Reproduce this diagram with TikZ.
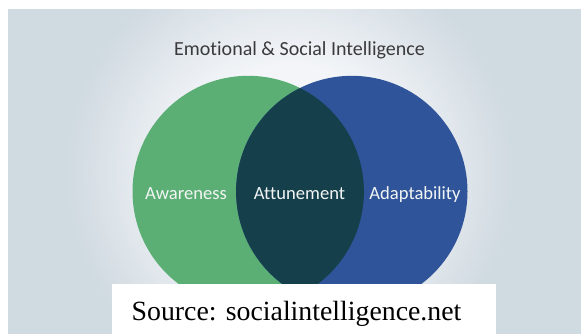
\documentclass[tikz,border=0pt]{standalone}
\usepackage{fontspec}
\setmainfont[Ligatures=NoCommon]{Carlito}
\newfontfamily\srcfont{Liberation Serif}
\definecolor{bgouter}{HTML}{D0DAE1}
\definecolor{bginner}{HTML}{F3F5F8}
\definecolor{greenc}{HTML}{5BAE74}
\definecolor{bluec}{HTML}{2F5499}
\definecolor{lensc}{HTML}{163F4C}
\definecolor{titlec}{HTML}{3A3A3C}
\definecolor{labelc}{HTML}{F1F5F4}
\tikzset{
  vlabel/.style={text=labelc,font=\fontsize{18.6}{22}\selectfont,inner sep=0pt,anchor=base},
  ttl/.style={text=titlec,font=\fontsize{20}{24}\selectfont,inner sep=0pt,anchor=base},
}
\begin{document}
\begin{tikzpicture}[x=1pt,y=-1pt]
\useasboundingbox (0,0) rectangle (581,333);
\fill[white] (0,0) rectangle (581,333);
\begin{scope}
  \clip (8,9) rectangle (590,340);
  \fill[bgouter] (8,9) rectangle (590,340);
  \foreach \i in {0,...,40}{
    \pgfmathsetmacro{\rr}{225-2.9*\i}
    \pgfmathsetmacro{\mixv}{2.5*\i}
    \fill[bginner!\mixv!bgouter] (290,172) circle[radius=\rr];
  }
\end{scope}
\fill[greenc] (248.2,191.5) circle[radius=115.7];
\fill[bluec] (351.8,191.5) circle[radius=115.7];
\begin{scope}
  \clip (248.2,191.5) circle[radius=115.7];
  \fill[lensc] (351.8,191.5) circle[radius=115.7];
\end{scope}
\node[ttl] (title) at (299.5,55) {Emotional \& Social Intelligence};
\node[vlabel] (aw) at (186,199) {Awareness};
\node[vlabel] (at) at (299.5,199) {Attunement};
\node[vlabel] (ad) at (415,199) {Adaptability};
\fill[white] (112,284) rectangle (496,340);
\node[inner sep=0pt,anchor=base,font=\srcfont\fontsize{27.8}{30}\selectfont,text=black] (src) at (296.5,320) {Source: socialintelligence.net};
\end{tikzpicture}
\end{document}
